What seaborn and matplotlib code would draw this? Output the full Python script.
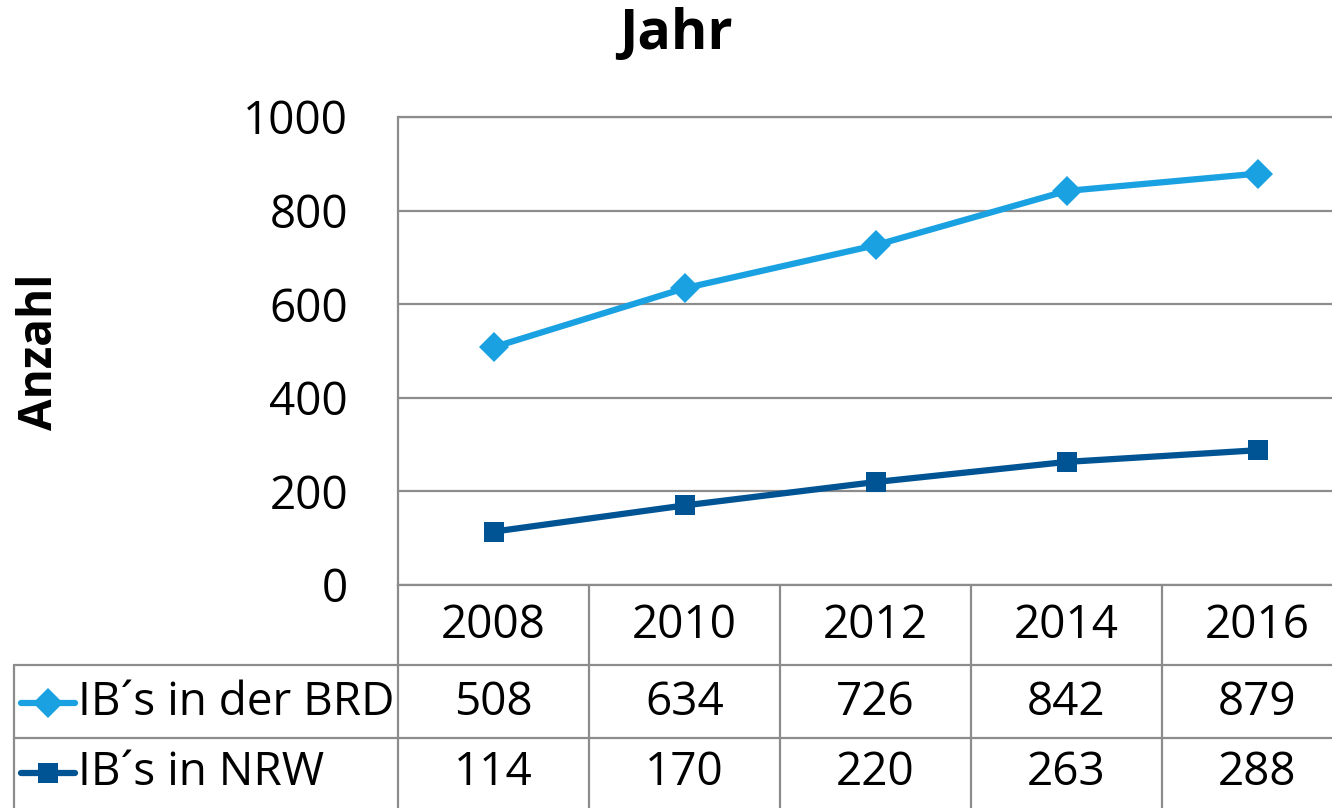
import matplotlib
matplotlib.use("Agg")
import matplotlib.pyplot as plt
import matplotlib.transforms as mtransforms
from matplotlib.lines import Line2D
import seaborn as sns
import pandas as pd

# data
years = ["2008", "2010", "2012", "2014", "2016"]
brd = [508, 634, 726, 842, 879]
nrw = [114, 170, 220, 263, 288]
series_names = ["IB´s in der BRD", "IB´s in NRW"]

c_brd = "#19A1E1"
c_nrw = "#005494"
grid_c = "#8C8C8C"

sns.set_theme(style="white")
plt.rcParams["font.family"] = ["Open Sans", "DejaVu Sans"]
plt.rcParams["text.color"] = "black"

W, H = 1332, 808
fig = plt.figure(figsize=(W / 100, H / 100), dpi=100)

# pixel geometry of the plot area (right side runs past the image edge, like the original)
left, right, top, bottom = 398, 1353, 117, 585
ax = fig.add_axes([left / W, (H - bottom) / H, (right - left) / W, (bottom - top) / H])

df = pd.DataFrame({
    "pos": list(range(len(years))) * 2,
    "value": brd + nrw,
    "series": [series_names[0]] * len(years) + [series_names[1]] * len(years),
})

lw = 4.5
ms_d, ms_s = 15, 15
sns.lineplot(data=df[df.series == series_names[0]], x="pos", y="value", ax=ax,
             color=c_brd, lw=lw, marker="D", markersize=ms_d, markeredgewidth=0)
sns.lineplot(data=df[df.series == series_names[1]], x="pos", y="value", ax=ax,
             color=c_nrw, lw=lw, marker="s", markersize=ms_s, markeredgewidth=0)

ax.set_xlim(-0.5, len(years) - 0.5)
ax.set_ylim(0, 1000)
ax.set_yticks(range(0, 1001, 200))
ax.set_xticks([])
ax.set_xlabel("")
ax.set_ylabel("")
ax.tick_params(axis="y", length=0, pad=36, labelsize=33, labelcolor="black")
ax.grid(axis="y", color=grid_c, lw=1.6)
for s in ["top", "right"]:
    ax.spines[s].set_visible(False)
for s in ["left", "bottom"]:
    ax.spines[s].set_color(grid_c)
    ax.spines[s].set_linewidth(1.6)
ax.axhline(1000, color=grid_c, lw=1.6, clip_on=False)

# data table below the axis
fy = lambda py: (H - py) / H
fx = lambda px: px / W
tr = mtransforms.blended_transform_factory(ax.transData, fig.transFigure)

row_year, row_a, row_b, tbl_bottom = 585, 665, 738, 808
for i in range(len(years) + 1):
    fig.add_artist(Line2D([i - 0.5, i - 0.5], [fy(row_year), fy(tbl_bottom)],
                          transform=tr, color=grid_c, lw=1.6))
for py in [row_a, row_b]:
    fig.add_artist(Line2D([fx(14), fx(W)], [fy(py), fy(py)],
                          transform=fig.transFigure, color=grid_c, lw=1.6))
fig.add_artist(Line2D([fx(14), fx(14)], [fy(row_a), fy(tbl_bottom)],
                      transform=fig.transFigure, color=grid_c, lw=1.6))

for i, y in enumerate(years):
    fig.text(i, fy(626), y, transform=tr, ha="center", va="center", fontsize=33)
    fig.text(i, fy(703), str(brd[i]), transform=tr, ha="center", va="center", fontsize=33)
    fig.text(i, fy(773), str(nrw[i]), transform=tr, ha="center", va="center", fontsize=33)

for name, col, mk, ms, yc_px in [(series_names[0], c_brd, "D", ms_d, 703),
                                  (series_names[1], c_nrw, "s", ms_s, 773)]:
    yc = fy(yc_px)
    fig.add_artist(Line2D([fx(21), fx(75)], [yc, yc], transform=fig.transFigure,
                          color=col, lw=lw, solid_capstyle="round"))
    fig.add_artist(Line2D([fx(48)], [yc], transform=fig.transFigure, color=col,
                          marker=mk, markersize=ms, markeredgewidth=0))
    fig.text(fx(78), yc, name, ha="left", va="center", fontsize=33)

fig.text(fx(676), fy(35), "Jahr", ha="center", va="center", fontsize=40, fontweight="bold")
fig.text(fx(40), fy(352), "Anzahl", ha="center", va="center", rotation=90, fontsize=33, fontweight="bold")

fig.savefig("out.png", dpi=100)
